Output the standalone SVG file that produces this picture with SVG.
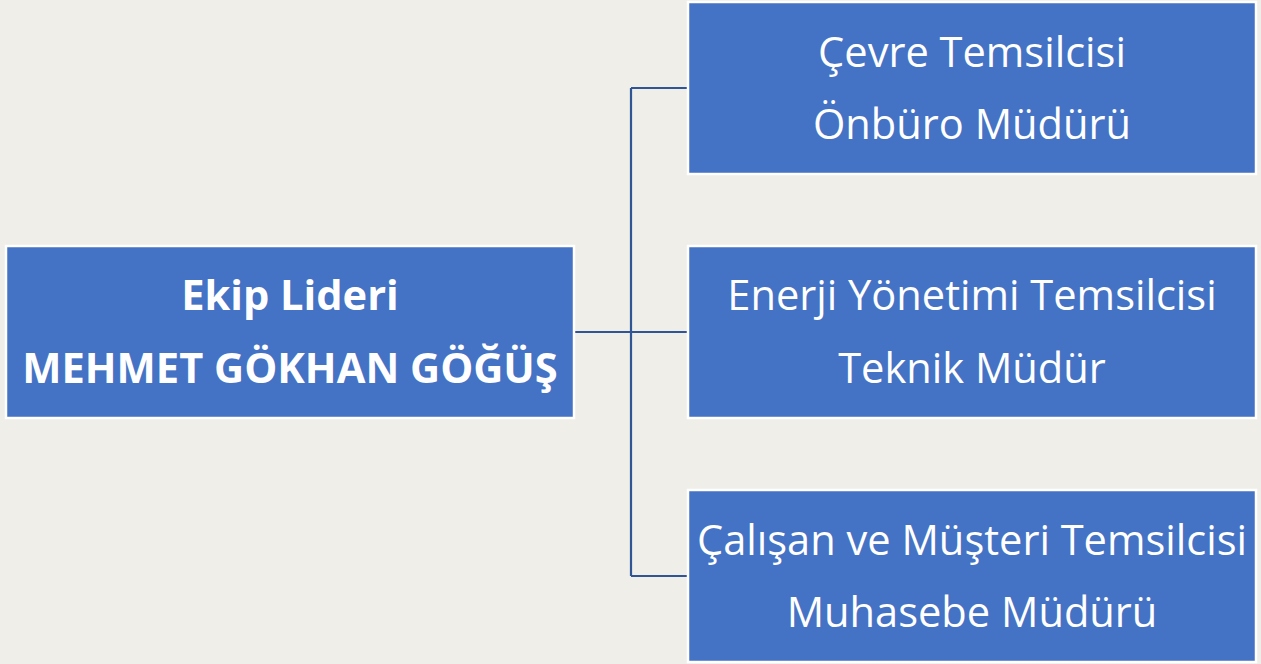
<svg xmlns="http://www.w3.org/2000/svg" width="1261" height="664" viewBox="0 0 1261 664">
<style>
.box{fill:#4472C4;stroke:#FFFFFF;stroke-width:2.5}
.t{font-family:"Open Sans","Liberation Sans",sans-serif;fill:#FFFFFF;text-anchor:middle;font-size:41.6px}
.b{font-weight:bold}
.c{fill:none;stroke:#2F5597;stroke-width:2.2}
</style>
<rect width="1261" height="664" fill="#EFEEE8"/>
<g id="connectors">
<path class="c" d="M575 332H688M631 88V576M631 88H688M631 576H688"/>
</g>
<g id="leader">
<rect class="box" x="6" y="246" width="568" height="172"/>
<text class="t b" x="290" y="310">Ekip Lideri</text>
<text class="t b" x="290" y="383">MEHMET GÖKHAN GÖĞÜŞ</text>
</g>
<g id="cevre">
<rect class="box" x="688" y="2" width="568" height="172"/>
<text class="t" x="972" y="67">Çevre Temsilcisi</text>
<text class="t" x="972" y="139">Önbüro Müdürü</text>
</g>
<g id="enerji">
<rect class="box" x="688" y="246" width="568" height="172"/>
<text class="t" x="972" y="310">Enerji Yönetimi Temsilcisi</text>
<text class="t" x="972" y="383">Teknik Müdür</text>
</g>
<g id="calisan">
<rect class="box" x="688" y="490" width="568" height="172"/>
<text class="t" x="972" y="555">Çalışan ve Müşteri Temsilcisi</text>
<text class="t" x="972" y="627">Muhasebe Müdürü</text>
</g>
</svg>
